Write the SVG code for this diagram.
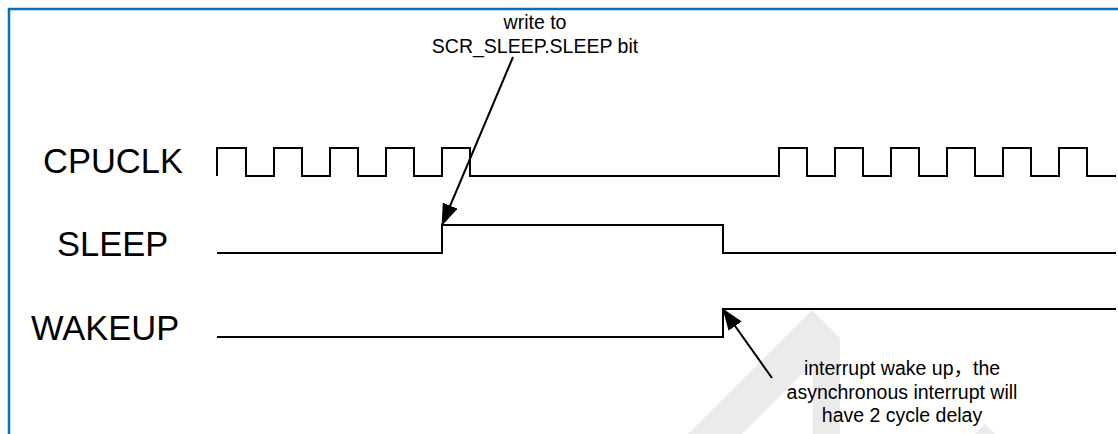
<svg xmlns="http://www.w3.org/2000/svg" width="1118" height="434" viewBox="0 0 1118 434">
<style>
.sig{fill:none;stroke:#000;stroke-width:2;stroke-linejoin:miter}
.lbl{font-family:"Liberation Sans",Arial,sans-serif;font-size:34.5px;fill:#000}
.ann{font-family:"Liberation Sans",Arial,"Noto Sans CJK SC",sans-serif;font-size:19.5px;fill:#000;text-anchor:middle}
.arr{stroke:#000;stroke-width:2;fill:none}
</style>
<defs>
<marker id="ah" markerUnits="userSpaceOnUse" markerWidth="22" markerHeight="16" refX="21" refY="8" orient="auto">
<path d="M0,0 L22,8 L0,16 z" fill="#000"/>
</marker>
</defs>
<rect width="1118" height="434" fill="#fff"/>
<g id="watermark" fill="#ebebeb">
<polygon points="688,434 812,310 840,338 840,434 813,434 813,363 742,434"/>
<polygon points="975,434 985,424 995,434"/>
</g>
<rect x="9" y="9" width="1200" height="500" fill="none" stroke="#0070C0" stroke-width="2.5"/>
<g id="cpuclk">
<text class="lbl" x="43" y="173">CPUCLK</text>
<path class="sig" d="M217,176 V148 H246 V176 H274 V148 H302 V176 H330 V148 H358 V176 H386 V148 H414 V176 H442 V148 H470 V176 H779 V148 H807 V176 H835 V148 H863 V176 H891 V148 H919 V176 H947 V148 H975 V176 H1003 V148 H1031 V176 H1059 V148 H1087 V176 H1116"/>
</g>
<g id="sleep">
<text class="lbl" x="57" y="256">SLEEP</text>
<path class="sig" d="M217,253 H442 V225 H723 V253 H1116"/>
</g>
<g id="wakeup">
<text class="lbl" x="31" y="340">WAKEUP</text>
<path class="sig" d="M217,337 H723 V309 H1116"/>
</g>
<g id="note-write">
<text class="ann" x="535" y="29">write to</text>
<text class="ann" x="535" y="53">SCR_SLEEP.SLEEP bit</text>
</g>
<g id="note-interrupt">
<text class="ann" x="902" y="375">interrupt wake up，the</text>
<text class="ann" x="902" y="399">asynchronous interrupt will</text>
<text class="ann" x="902" y="422">have 2 cycle delay</text>
</g>
<g id="connectors">
<line class="arr" x1="513" y1="57" x2="442" y2="225" marker-end="url(#ah)"/>
<line class="arr" x1="772" y1="378" x2="723" y2="309" marker-end="url(#ah)"/>
</g>
</svg>
